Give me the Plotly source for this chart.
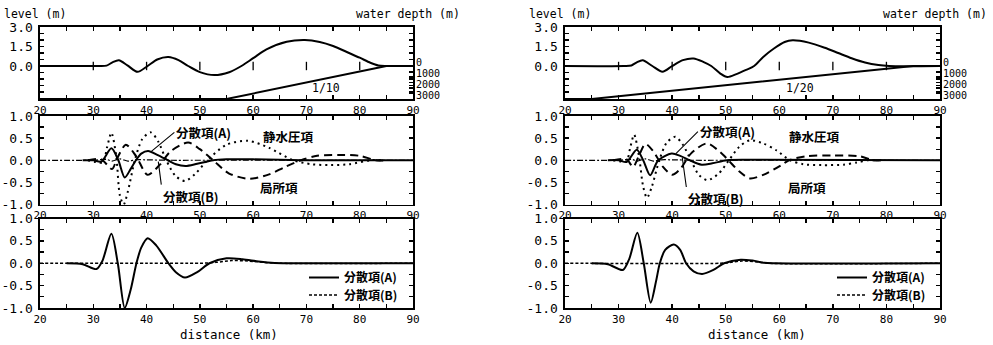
import plotly.graph_objects as go

W, H = 993, 345

# ---------------- data ----------------
x_tickvals = [20, 25, 30, 35, 40, 45, 50, 55, 60, 65, 70, 75, 80, 85, 90]
x_ticktext = ["20", "", "30", "", "40", "", "50", "", "60", "", "70", "", "80", "", "90"]
lvl_tickvals = [-2.5, -2.0, -1.5, -1.0, -0.5, 0.0, 0.5, 1.0, 1.5, 2.0, 2.5, 3.0]
lvl_ticktext = ["", "", "", "", "", "0.0", "", "", "1.5", "", "", "3.0"]
dep_tickvals = [0, 500, 1000, 1500, 2000, 2500, 3000]
dep_ticktext = ["0", "", "1000", "", "2000", "", "3000"]
term_tickvals = [-1.0, -0.75, -0.5, -0.25, 0.0, 0.25, 0.5, 0.75, 1.0]
term_ticktext = ["-1.0", "", "-0.5", "", "0.0", "", "0.5", "", "1.0"]
zero_marks = [30, 40, 50, 60, 70, 80]

# --- slope 1/10 (left column) ---
lvl10_x = [20, 31, 32.5, 33.6, 34.8, 36.4, 38.3, 40.2, 42.0, 44.1, 46.0, 47.8, 50.0, 52.7, 55.5,
           57.8, 60.0, 62.5, 66.3, 69.7, 72.5, 75.0, 78.0, 80.0, 82.0, 83.5, 85.0, 90]
lvl10_y = [0, 0, 0.03, 0.28, 0.44, 0.05, -0.45, 0, 0.5, 0.69, 0.45, 0, -0.47, -0.7, -0.48,
           0, 0.6, 1.28, 1.87, 2.0, 1.85, 1.54, 1.0, 0.64, 0.25, 0.04, 0, 0]
dep10_x = [20, 55, 85, 90]
dep10_d = [3000, 3000, 0, 0]

a10_x = [28, 30, 31.5, 33.4, 34.7, 35.9, 37.0, 38.0, 39.0, 40.3, 42.0, 44.0, 45.5, 47.3, 49.5, 52.5, 55, 60, 65, 70, 90]
a10_y = [0, 0, -0.03, 0.27, 0, -0.39, -0.2, 0, 0.15, 0.21, 0.12, 0, -0.09, -0.13, -0.08, 0, 0.02, 0.02, 0.01, 0, 0]
b10_x = [20, 30, 32.5, 33.5, 35.0, 36.5, 38.0, 40.0, 44.0, 50.0, 90]
b10_y = [0, 0, 0.02, -0.02, 0.03, -0.02, 0.01, 0.01, 0, 0, 0]
hyd10_x = [29, 30.5, 31.8, 32.6, 33.4, 34.3, 35.0, 35.7, 36.5, 37.8, 39.2, 40.8, 42.2, 43.7, 45.4, 47.2,
           49.2, 51.4, 55.0, 59.0, 63.0, 67.5, 71.0, 74.5, 78.0, 82.0, 84]
hyd10_y = [0, -0.04, -0.05, 0.3, 0.62, 0.1, -0.8, -1.0, -0.7, 0, 0.48, 0.63, 0.42, 0, -0.35, -0.47,
           -0.3, 0, 0.35, 0.44, 0.28, 0, -0.09, -0.11, -0.09, 0, 0]
loc10_x = [29, 31.5, 33.5, 34.5, 36.1, 38.0, 40.2, 42.5, 44.5, 47.8, 50.0, 52.5, 55.5, 59.3, 63.0, 66.0,
           69.0, 72.0, 76.0, 80.0, 83.0, 85]
loc10_y = [0, 0.02, -0.2, 0.05, 0.35, 0.1, -0.33, -0.1, 0.2, 0.4, 0.25, 0, -0.3, -0.42, -0.32, -0.15,
           0, 0.1, 0.12, 0.1, 0, 0]
da10_x = [25, 28, 30.6, 31.7, 33.4, 34.6, 35.9, 37.0, 38.1, 39.0, 40.2, 41.8, 44.1, 45.5, 47.2, 49.5,
          51.8, 55.0, 58.0, 61.0, 64.0, 66.0, 90]
da10_y = [0, -0.02, -0.13, 0.05, 0.66, 0, -1.0, -0.6, 0, 0.35, 0.56, 0.4, 0, -0.2, -0.32, -0.2,
          0, 0.11, 0.09, 0.04, 0.005, 0, 0]
db10_x = [20, 40, 50, 53, 56, 59, 62, 65, 90]
db10_y = [0, 0, 0, 0.02, 0.06, 0.05, 0.02, 0, 0]

# --- slope 1/20 (right column) ---
lvl20_x = [20, 31, 32.4, 33.4, 34.5, 36.3, 38.2, 40.0, 42.0, 44.0, 45.8, 47.3, 49.0, 50.3, 52.0, 53.8,
           55.3, 57.0, 59.0, 61.0, 62.5, 65.5, 68.5, 71.0, 73.5, 76.0, 78.5, 80.5, 90]
lvl20_y = [0, 0, 0.04, 0.28, 0.44, 0, -0.44, 0, 0.45, 0.58, 0.32, 0, -0.58, -0.85, -0.62, -0.3,
           0, 0.7, 1.35, 1.85, 1.98, 1.8, 1.4, 1.0, 0.6, 0.27, 0.07, 0, 0]
dep20_x = [20, 25, 85, 90]
dep20_d = [3000, 3000, 0, 0]

a20_x = [28, 30, 31.5, 33.4, 34.6, 35.9, 37.4, 39.9, 41.5, 43.3, 45.5, 47.5, 50.2, 55, 90]
a20_y = [0, 0, -0.04, 0.24, 0, -0.34, 0, 0.15, 0.1, 0, -0.1, -0.07, 0, 0.01, 0]
b20_x = [20, 30, 32.5, 33.5, 35.0, 36.5, 38.0, 40.0, 44.0, 50.0, 90]
b20_y = [0, 0, 0.02, -0.02, 0.03, -0.02, 0.01, 0.01, 0, 0, 0]
hyd20_x = [29, 30.5, 31.5, 32.2, 32.9, 33.8, 34.6, 35.3, 36.2, 37.6, 39.0, 40.6, 42.0, 43.5, 45.0, 46.6,
           48.7, 50.6, 52.5, 54.5, 57.0, 59.5, 62.0, 64.5, 68.0, 72.0, 74.5, 76.5, 78]
hyd20_y = [0, -0.03, -0.02, 0.3, 0.58, 0.1, -0.6, -0.85, -0.6, 0, 0.4, 0.53, 0.35, 0, -0.33, -0.45,
           -0.3, 0, 0.3, 0.45, 0.38, 0.22, 0, -0.09, -0.11, -0.1, -0.05, 0, 0]
loc20_x = [29, 31.5, 32.7, 33.8, 35.0, 36.5, 38.3, 40.0, 41.5, 43.5, 46.5, 49.0, 50.5, 52.5, 54.5, 57.0,
           60.4, 61.8, 65.0, 70.0, 75.0, 77.5, 79]
loc20_y = [0, 0.02, -0.15, 0.1, 0.37, 0.2, -0.15, -0.33, -0.2, 0.15, 0.38, 0.18, 0, -0.25, -0.41, -0.33,
           -0.11, 0, 0.09, 0.11, 0.09, 0, 0]
da20_x = [25, 28, 30.8, 32.0, 33.5, 34.7, 36.0, 37.0, 37.7, 38.7, 40.3, 41.5, 42.6, 44.0, 45.6, 47.7,
          49.7, 52.8, 55.0, 57.2, 59.0, 90]
da20_y = [0, -0.02, -0.15, 0.1, 0.68, 0, -0.88, -0.4, 0, 0.3, 0.42, 0.3, 0, -0.18, -0.24, -0.15,
          0, 0.08, 0.06, 0.01, 0, 0]
db20_x = [20, 49, 51, 53, 56, 58, 90]
db20_y = [0, 0, 0.02, 0.05, 0.03, 0, 0]

lbl_A = "分散項(A)"
lbl_B = "分散項(B)"
lbl_hyd = "静水圧項"
lbl_loc = "局所項"

# ---------------- layout helpers ----------------
def px(x):
    return x / W

def py(y):
    return 1 - y / H

MONO = "DejaVu Sans Mono"
JP = "Noto Sans CJK JP"
BLK = "black"

cols = {"L": [px(40), px(413)], "R": [px(565), px(940)]}
rows = {"top": [py(99), py(27)], "mid": [py(204.5), py(116)], "bot": [py(308), py(218.5)]}

fig = go.Figure()

def xax(domain, anchor):
    return dict(domain=domain, anchor=anchor, range=[20, 90], tickmode="array",
                tickvals=x_tickvals, ticktext=x_ticktext, ticks="inside", ticklen=4,
                tickwidth=1.3, tickcolor=BLK, showline=True, linecolor=BLK, linewidth=1.6,
                mirror="ticks", showgrid=False, zeroline=False, automargin=False,
                tickfont=dict(family=MONO, size=11, color=BLK))

def yax(domain, anchor, rng, tv, tt):
    return dict(domain=domain, anchor=anchor, range=rng, tickmode="array", tickvals=tv,
                ticktext=tt, ticks="inside", ticklen=4, tickwidth=1.3, tickcolor=BLK,
                showline=True, linecolor=BLK, linewidth=1.6, mirror="ticks", showgrid=False,
                zeroline=False, ticklabelstandoff=3, automargin=False,
                tickfont=dict(family=MONO, size=13, color=BLK))

lvl_range = [-33.0 / 13.0, 3.0]
dep_range = [3000, -39.0 / 11.0 * 1000]

layout = dict(template="none", width=W, height=H, margin=dict(l=0, r=0, t=0, b=0, pad=0),
              autosize=False, paper_bgcolor="white", plot_bgcolor="white", showlegend=True)

for i, (c, r) in enumerate([("L", "top"), ("L", "mid"), ("L", "bot"),
                             ("R", "top"), ("R", "mid"), ("R", "bot")], start=1):
    layout["xaxis%d" % i] = xax(cols[c], "y%d" % i)
    if r == "top":
        layout["yaxis%d" % i] = yax(rows[r], "x%d" % i, lvl_range, lvl_tickvals, lvl_ticktext)
    else:
        layout["yaxis%d" % i] = yax(rows[r], "x%d" % i, [-1.0, 1.0], term_tickvals, term_ticktext)

for yi, xi in [(7, 1), (8, 4)]:
    layout["yaxis%d" % yi] = dict(overlaying="y%d" % xi, anchor="x%d" % xi,
                                  side="right", range=dep_range, tickmode="array",
                                  tickvals=dep_tickvals, ticktext=dep_ticktext, ticks="inside",
                                  ticklen=4, tickwidth=1.3, tickcolor=BLK, showline=False,
                                  showgrid=False, zeroline=False, ticklabelstandoff=2,
                                  ticklabelshift=4, automargin=False,
                                  tickfont=dict(family=MONO, size=10, color="#000000"))

def line(x, y, xa, ya, dash="solid", width=2.0, shape="spline", name=None, legend=None):
    fig.add_trace(go.Scatter(x=x, y=y, xaxis=xa, yaxis=ya, mode="lines",
                             line=dict(color=BLK, width=width, dash=dash, shape=shape,
                                       smoothing=0.8 if shape == "spline" else None),
                             name=name, showlegend=legend is not None,
                             legend=legend if legend else "legend", hoverinfo="skip"))

DOT = "2px,4px"
DASH = "8px,5px"
DASHDOT = "6px,2px,2px,2px"
SHORT = "3px,2px"

sets = [
    ("1", "2", "3", "7", lvl10_x, lvl10_y, dep10_x, dep10_d, a10_x, a10_y, b10_x, b10_y,
     hyd10_x, hyd10_y, loc10_x, loc10_y, da10_x, da10_y, db10_x, db10_y, "legend", "legend2"),
    ("4", "5", "6", "8", lvl20_x, lvl20_y, dep20_x, dep20_d, a20_x, a20_y, b20_x, b20_y,
     hyd20_x, hyd20_y, loc20_x, loc20_y, da20_x, da20_y, db20_x, db20_y, "legend3", "legend4"),
]

for (t, m, b, d, lx, ly, dx, dd, ax_, ay_, bx, by, hx, hy, lcx, lcy, dax, day, dbx, dby,
     legA, legB) in sets:
    line(lx, ly, "x" + t, "y" + t, width=2.0)
    line(dx, dd, "x" + t, "y" + d, width=2.0, shape="linear")
    fig.add_trace(go.Scatter(x=zero_marks, y=[0] * len(zero_marks), xaxis="x" + t, yaxis="y" + t,
                             mode="markers", showlegend=False, hoverinfo="skip",
                             marker=dict(symbol="line-ns", size=6, color=BLK,
                                         line=dict(color=BLK, width=1.3))))
    line(bx, by, "x" + m, "y" + m, dash=DASHDOT, width=1.2)
    line(hx, hy, "x" + m, "y" + m, dash=DOT, width=2.0)
    line(lcx, lcy, "x" + m, "y" + m, dash=DASH, width=2.0)
    line(ax_, ay_, "x" + m, "y" + m, width=2.0)
    line(dbx, dby, "x" + b, "y" + b, dash=SHORT, width=1.5, name=lbl_B, legend=legB)
    line(dax, day, "x" + b, "y" + b, width=2.0, name=lbl_A, legend=legA)

legfont = dict(family=JP, size=12, color=BLK, weight="bold")
for key, xl, yt in [("legend", 304, 263), ("legend2", 304, 280.5),
                    ("legend3", 832, 263), ("legend4", 832, 280.5)]:
    layout[key] = dict(x=px(xl), y=py(yt), xanchor="left", yanchor="top",
                       bgcolor="rgba(0,0,0,0)", borderwidth=0, font=legfont, itemwidth=30,
                       tracegroupgap=0)

jp = dict(family=JP, size=12.5, color=BLK, weight="bold")
mono = dict(family=MONO, size=11.5, color=BLK)

anns = []
def txt(xp, yp, s, font, xanchor="center"):
    anns.append(dict(x=px(xp), y=py(yp), xref="paper", yref="paper", text=s, showarrow=False,
                     font=font, xanchor=xanchor, yanchor="middle"))

txt(35, 14, "level (m)", mono)
txt(408, 14, "water depth (m)", mono)
txt(560, 14, "level (m)", mono)
txt(935, 14, "water depth (m)", mono)
txt(326, 88, "1/10", mono)
txt(800, 88, "1/20", mono)
txt(229, 334, "distance (km)", dict(family=MONO, size=12.5, color=BLK))
txt(757, 334, "distance (km)", dict(family=MONO, size=12.5, color=BLK))
txt(288, 136, lbl_hyd, jp)
txt(278.5, 187, lbl_loc, jp)
txt(814.5, 136, lbl_hyd, jp)
txt(807, 187, lbl_loc, jp)

def arrow(xr, yr, x, y, ax, ay, s, xanchor, yanchor):
    anns.append(dict(x=x, y=y, xref=xr, yref=yr, ax=ax, ay=ay, text=s, showarrow=True,
                     arrowhead=0, arrowwidth=1.1, arrowcolor=BLK, font=jp,
                     xanchor=xanchor, yanchor=yanchor, standoff=0, startstandoff=0))

arrow("x2", "y2", 40.9, 0.2, 23, -19, lbl_A, "left", "middle")
arrow("x2", "y2", 42.2, -0.03, 3, 23, lbl_B, "left", "top")
arrow("x5", "y5", 40.7, 0.15, 22, -22, lbl_A, "left", "middle")
arrow("x5", "y5", 41.9, 0.05, 4, 29, lbl_B, "left", "top")

layout["annotations"] = anns
fig.update_layout(**layout)
fig.write_html("out.html", config={"displayModeBar": False, "staticPlot": True},
               post_script="document.body.style.margin='0';document.body.style.overflow='hidden';")
